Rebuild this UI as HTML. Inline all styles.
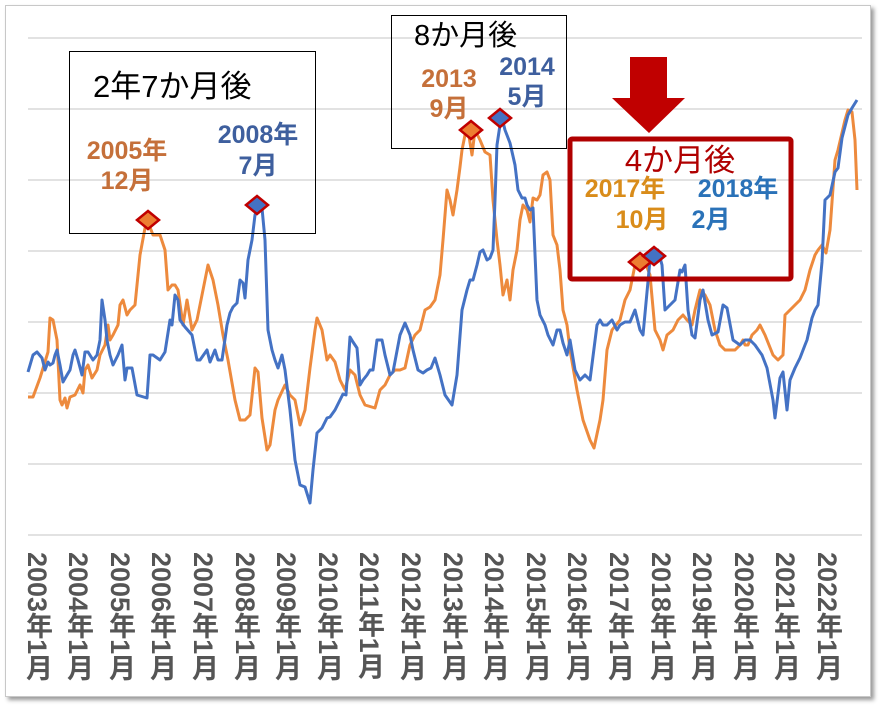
<!DOCTYPE html>
<html><head><meta charset="utf-8">
<style>
body{margin:0;width:882px;height:707px;background:#fff;overflow:hidden;position:relative;font-family:"Liberation Sans","Noto Sans CJK JP",sans-serif}
.frame{position:absolute;left:5px;top:5px;width:864px;height:690px;border:1px solid #c8c8c8;box-shadow:3px 3px 4px #999;background:#fff}
.xl{position:absolute;top:552px;writing-mode:vertical-rl;text-orientation:mixed;font-size:27px;font-weight:bold;color:#555;line-height:28px;font-family:"Liberation Sans","Noto Sans CJK JP",sans-serif}
svg{position:absolute;left:0;top:0}
</style></head><body>
<div class="frame"></div>
<svg width="882" height="707" viewBox="0 0 882 707">
<g stroke="#d9d9d9" stroke-width="1.5">
<line x1="28" x2="862" y1="38" y2="38"/><line x1="28" x2="862" y1="109" y2="109"/><line x1="28" x2="862" y1="180" y2="180"/><line x1="28" x2="862" y1="251" y2="251"/><line x1="28" x2="862" y1="322" y2="322"/><line x1="28" x2="862" y1="393" y2="393"/><line x1="28" x2="862" y1="464" y2="464"/><line x1="28" x2="862" y1="535" y2="535"/>
</g>
<polyline fill="none" stroke="#ed8a3d" stroke-width="3" stroke-linejoin="round" points="28,397 33,397 40,378 48,352 50,318 53,320 57,340 60,400 62,405 65,398 67,408 70,397 75,395 80,385 83,393 85,370 88,365 92,378 97,370 100,355 105,345 108,325 110,340 113,335 118,325 120,305 123,300 127,315 130,310 135,305 140,255 145,228 148,222 153,235 160,235 165,250 168,290 172,285 175,285 178,290 183,325 187,300 192,330 197,320 203,290 208,265 213,280 218,305 223,335 228,360 235,400 240,420 245,420 250,415 255,368 258,372 262,418 267,450 270,445 275,410 278,400 285,385 290,395 295,400 300,425 305,410 310,368 315,330 317,318 322,330 327,360 330,355 335,362 340,380 345,390 350,370 355,375 360,395 365,405 375,408 380,390 385,385 390,375 395,370 400,370 405,368 410,345 415,335 420,330 425,310 430,307 435,300 440,275 443,240 447,190 450,200 453,215 457,190 460,167 462,150 465,135 468,130 472,155 475,130 480,140 485,152 490,155 493,200 497,240 500,265 503,295 507,280 510,300 513,270 517,250 520,220 523,205 527,210 530,222 533,198 537,200 540,195 543,175 547,172 550,180 553,235 557,245 560,270 563,310 567,325 570,350 577,390 583,420 590,440 594,448 600,420 603,400 607,350 612,330 620,320 625,300 630,290 635,265 640,263 645,262 650,275 655,330 660,340 663,350 667,335 673,330 678,320 683,315 687,320 692,325 695,310 700,290 705,295 710,305 715,330 720,345 725,350 735,350 740,345 743,340 745,345 748,345 752,335 757,330 760,325 765,335 773,355 778,360 783,355 785,315 790,310 795,305 800,300 805,290 810,270 815,255 818,250 822,245 826,253 830,230 835,160 838,150 845,120 848,110 852,112 855,140 857,190"/>
<polyline fill="none" stroke="#4472c4" stroke-width="3" stroke-linejoin="round" points="28,372 33,355 37,352 42,358 45,370 48,362 50,365 53,363 55,355 57,350 60,365 63,382 67,375 70,370 73,355 75,350 78,360 82,375 85,352 88,352 93,360 97,355 100,340 102,300 105,320 107,340 110,355 113,365 118,355 122,345 125,380 127,368 132,368 137,395 147,398 150,355 153,355 160,360 165,352 170,320 172,325 175,295 178,300 180,320 185,327 192,335 197,360 200,360 207,350 210,362 215,350 218,360 222,360 227,325 230,313 233,307 237,303 240,280 243,283 245,298 248,260 252,240 255,215 258,205 262,208 265,240 268,330 272,350 275,360 278,368 282,355 285,370 290,410 295,460 300,485 305,487 310,503 313,470 317,433 322,428 327,418 330,417 335,410 340,400 343,394 346,395 350,337 353,342 357,348 360,385 363,380 367,375 370,370 373,370 377,340 382,340 385,355 390,375 393,372 400,335 405,323 410,335 413,350 418,370 423,373 427,370 431,368 435,358 440,375 445,395 452,405 457,375 462,310 467,290 470,280 473,280 477,265 480,252 483,250 487,260 490,258 493,250 495,200 497,145 500,125 502,118 505,130 510,143 515,165 518,190 522,198 525,198 527,205 530,210 533,208 537,300 540,315 545,325 548,335 553,345 557,330 560,330 563,343 567,355 570,340 575,370 580,380 585,375 590,380 597,325 600,320 603,325 607,325 612,320 617,330 620,325 625,322 630,322 635,310 640,330 643,335 650,260 655,255 658,250 662,265 665,310 670,305 675,300 680,270 682,272 685,265 688,310 692,335 695,338 700,300 703,290 708,320 712,335 718,332 723,305 727,308 733,340 740,345 745,340 750,340 755,345 762,355 767,368 773,400 775,418 780,378 783,372 787,410 790,380 795,368 800,358 805,345 807,340 812,318 815,310 818,305 822,262 825,200 830,195 835,172 838,168 842,138 848,115 852,108 857,100"/>
<g stroke="#c00000" stroke-width="2.5">
<polygon points="148,211 159,220 148,229 137,220" fill="#ed7d31"/>
<polygon points="257,196 268,205 257,214 246,205" fill="#4472c4"/>
<polygon points="471,121 482,130 471,139 460,130" fill="#ed7d31"/>
<polygon points="500,109 511,118 500,127 489,118" fill="#4472c4"/>
<polygon points="640,253 651,262 640,271 629,262" fill="#ed7d31"/>
<polygon points="654,247 665,256 654,265 643,256" fill="#4472c4"/>
</g>
<rect x="69.5" y="51.5" width="246" height="182" fill="none" stroke="#000" stroke-width="1"/>
<rect x="391.5" y="15.5" width="175" height="133" fill="none" stroke="#000" stroke-width="1"/>
<rect x="570" y="139" width="221" height="140" fill="none" stroke="#b00000" stroke-width="5" rx="2"/>
<polygon points="630,57 667,57 667,98 685,98 649,133 612,98 630,98" fill="#c00000"/>
<g font-family="Liberation Sans,Noto Sans CJK JP,sans-serif">
<text x="93" y="97" font-size="31" fill="#000">2年7か月後</text>
<text x="414" y="45" font-size="29" fill="#000">8か月後</text>
<text x="680" y="171" font-size="31" fill="#b00000" text-anchor="middle">4か月後</text>
<g font-weight="bold" font-size="25" text-anchor="middle">
<text x="127" y="159" fill="#c5703a">2005年</text><text x="127" y="189" fill="#c5703a">12月</text>
<text x="258" y="143" fill="#3e5f9e">2008年</text><text x="258" y="174" fill="#3e5f9e">7月</text>
<text x="449" y="87" fill="#c5703a">2013</text><text x="449" y="117" fill="#c5703a">9月</text>
<text x="527" y="75" fill="#3e5f9e">2014</text><text x="527" y="105" fill="#3e5f9e">5月</text>
<text x="625" y="197" fill="#d98c1a">2017年</text><text x="642" y="228" fill="#d98c1a">10月</text>
<text x="738" y="197" fill="#2a72b8">2018年</text><text x="711" y="228" fill="#2a72b8">2月</text>
</g></g>
</svg>
<div class="xl" style="left:23px">2003年1月</div>
<div class="xl" style="left:64px">2004年1月</div>
<div class="xl" style="left:106px">2005年1月</div>
<div class="xl" style="left:147px">2006年1月</div>
<div class="xl" style="left:189px">2007年1月</div>
<div class="xl" style="left:231px">2008年1月</div>
<div class="xl" style="left:272px">2009年1月</div>
<div class="xl" style="left:314px">2010年1月</div>
<div class="xl" style="left:355px">2011年1月</div>
<div class="xl" style="left:397px">2012年1月</div>
<div class="xl" style="left:439px">2013年1月</div>
<div class="xl" style="left:480px">2014年1月</div>
<div class="xl" style="left:522px">2015年1月</div>
<div class="xl" style="left:563px">2016年1月</div>
<div class="xl" style="left:605px">2017年1月</div>
<div class="xl" style="left:647px">2018年1月</div>
<div class="xl" style="left:688px">2019年1月</div>
<div class="xl" style="left:730px">2020年1月</div>
<div class="xl" style="left:771px">2021年1月</div>
<div class="xl" style="left:813px">2022年1月</div>
</body></html>
